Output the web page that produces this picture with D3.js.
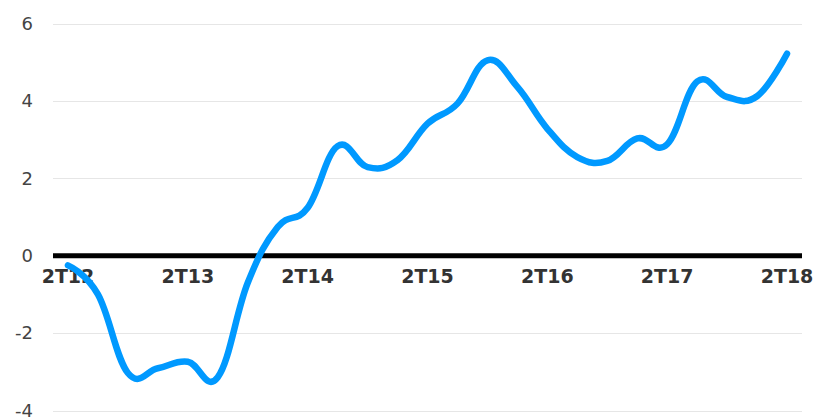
<!DOCTYPE html>
<html><head><meta charset="utf-8">
<script src="https://cdn.jsdelivr.net/npm/d3@7/dist/d3.min.js"></script>
<style>body{margin:0;background:#fff}</style>
</head><body>
<svg id="c" width="817" height="418"></svg>
<script>
const categories = ["2T12","3T12","4T12","1T13","2T13","3T13","4T13","1T14","2T14","3T14","4T14","1T15","2T15","3T15","4T15","1T16","2T16","3T16","4T16","1T17","2T17","3T17","4T17","1T18","2T18"];
const values = [-0.25,-1.0,-3.03,-2.91,-2.74,-3.14,-0.7,0.74,1.24,2.83,2.29,2.47,3.41,3.93,5.05,4.36,3.28,2.55,2.45,3.03,2.88,4.5,4.1,4.12,5.22];
const yTicks = [-4,-2,0,2,4,6];
const xLabels = ["2T12","2T13","2T14","2T15","2T16","2T17","2T18"];

(function(){
const svg = d3.select("#c");
const pl = 53, pr = 802, pt = 23.5, pb = 410.5;
const x = d3.scaleBand().domain(categories).range([pl, pr]);
const y = d3.scaleLinear().domain([-4, 6]).range([pb, pt]);
const cx = d => x(d) + x.bandwidth() / 2;

svg.append("g").selectAll("line").data(yTicks.filter(t => t !== 0)).join("line")
  .attr("x1", pl).attr("x2", pr)
  .attr("y1", d => Math.round(y(d)) + 0.5).attr("y2", d => Math.round(y(d)) + 0.5)
  .attr("stroke", "#e6e6e6").attr("stroke-width", 1);

svg.append("g").selectAll("text").data(yTicks).join("text")
  .attr("x", 33).attr("y", d => y(d)).attr("dy", "0.35em")
  .attr("text-anchor", "end")
  .attr("font-family", "DejaVu Sans, sans-serif").attr("font-size", 18)
  .attr("fill", "#444").text(d => d);

svg.append("line").attr("x1", pl).attr("x2", pr)
  .attr("y1", y(0)).attr("y2", y(0))
  .attr("stroke", "#000").attr("stroke-width", 5);

svg.append("g").selectAll("text").data(xLabels).join("text")
  .attr("x", d => cx(d)).attr("y", y(0) + 27)
  .attr("text-anchor", "middle")
  .attr("font-family", "DejaVu Sans, sans-serif").attr("font-weight", "bold").attr("font-size", 19)
  .attr("fill", "#333").text(d => d);

const line = d3.line().x((d, i) => cx(categories[i])).y(d => y(d)).curve(d3.curveCardinal.tension(-0.2));
svg.append("path").datum(values).attr("d", line)
  .attr("fill", "none").attr("stroke", "#0099ff").attr("stroke-width", 6.5)
  .attr("stroke-linecap", "round").attr("stroke-linejoin", "round");
})();
</script>
</body></html>
